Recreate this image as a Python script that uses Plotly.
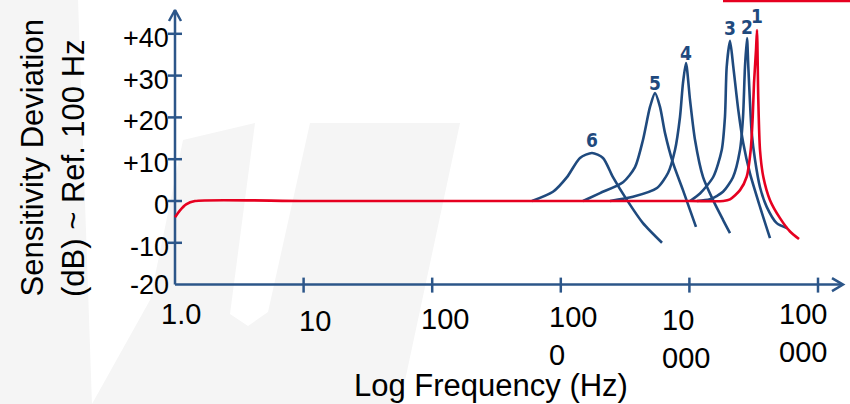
import plotly.graph_objects as go
import math

# ---------------- data ----------------
# frequency in Hz, sensitivity deviation in dB
curve1_hz = [1.0, 1.09, 1.22, 1.43, 10, 100, 1000, 10000, 18350, 20690, 24750, 27900,
             29970, 31070, 31800, 32950, 33550, 34340, 35400, 37550, 42350, 50640, 60580, 71170]
curve1_db = [-3.9, -2.3, -0.8, 0, 0, 0, 0, 0, 0, 0.4, 2.6, 5.8,
             12.2, 20.1, 28.2, 36.1, 40.9, 24.2, 12.2, 5.8, 0.2, -4.1, -7.3, -9.1]

curve2_hz = [11460, 14450, 18250, 21830, 24730, 26120, 27050, 28050, 28720, 30520,
             32390, 35400, 39920, 47750, 57730]
curve2_db = [0, 0.4, 2.2, 5.7, 12.2, 20.1, 32.1, 39.0, 32.1, 16.3, 9.8, 3.3, -1.4, -5.3, -6.5]

curve3_hz = [10110, 12090, 15350, 17840, 18910, 19500, 20690, 21950, 23990, 26240,
             29580, 35400, 42350]
curve3_db = [0, 1.8, 5.8, 12.2, 20.2, 32.1, 38.3, 32.1, 21.8, 13.8, 6.6, -1.4, -8.9]

curve4_hz = [2415, 3640, 5598, 6818, 7727, 8451, 8913, 9410, 10110, 11060, 12770,
             15280, 18250, 20690]
curve4_db = [0, 1.0, 3.1, 6.7, 12.2, 20.1, 28.2, 33.0, 24.2, 14.6, 5.7, 0.2, -4.5, -7.7]

curve5_hz = [1489, 2018, 3048, 3777, 4355, 4939, 5404, 5907, 6457, 7453, 8913, 11250]
curve5_db = [0, 1.9, 4.5, 8.1, 14.6, 22.5, 25.8, 22.5, 16.3, 9.1, 2.6, -6.2]

curve6_hz = [597, 869, 1117, 1410, 1749, 2128, 2545, 3273, 4355, 6124]
curve6_db = [0, 2.2, 5.7, 10.3, 11.5, 10.3, 5.7, 0.2, -5.3, -10.0]

curve_names = ["1", "2", "3", "4", "5", "6"]

x_tick_vals = [1, 10, 100, 1000, 10000, 100000]
x_tick_text = ["1.0", "10", "100", "100<br>0", "10<br>000", "100<br>000"]
y_tick_vals = [40, 30, 20, 10, 0, -10, -20]
y_tick_text = ["+40", "+30", "+20", "+10", "0", "-10", "-20"]

x_title = "Log Frequency (Hz)"
y_title_1 = "Sensitivity Deviation"
y_title_2 = "(dB) ~ Ref. 100 Hz"

# ---------------- layout / style ----------------
W, H = 850, 404
X0_PX = 175.0      # pixel of 1 Hz
DEC_PX = 128.6     # pixels per decade
Y0_PX = 201.0      # pixel of 0 dB
DB_PX = 4.18       # pixels per dB

def lx(px):
    return (px - X0_PX) / DEC_PX

def fx(px):
    return 10 ** lx(px)

def dy(py):
    return (Y0_PX - py) / DB_PX

BLUE = "#1f4a7e"
AXIS = "#2c5689"
RED = "#e60020"
FONT = "Liberation Sans, Arial, sans-serif"

fig = go.Figure()

# watermark (very light)
def path(pts):
    s = "M " + " L ".join(f"{x/W:.4f},{1 - y/H:.4f}" for x, y in pts) + " Z"
    return s

shapes = []
for pts, col in [
    ([(0, 0), (78, 0), (92, 404), (0, 404)], "#f5f5f5"),
    ([(183, 140), (255, 123), (460, 123), (400, 404), (92, 404), (150, 300)], "#f5f5f5"),
    ([(255, 123), (310, 123), (268, 312), (248, 326), (230, 314)], "#ffffff"),
]:
    shapes.append(dict(type="path", path=path(pts), xref="paper", yref="paper",
                       fillcolor=col, line=dict(width=0), layer="below"))
# red line at top right
shapes.append(dict(type="line", xref="paper", yref="paper", x0=723 / W, x1=1.0,
                   y0=1 - 1 / H, y1=1 - 1 / H, line=dict(color=RED, width=2.5)))

# axes (drawn through the data scales)
fig.add_trace(go.Scatter(x=[1, fx(843)], y=[-20, -20], mode="lines",
                         line=dict(color=AXIS, width=2.5), hoverinfo="skip", showlegend=False))
fig.add_trace(go.Scatter(x=[1, 1], y=[-20, dy(10)], mode="lines",
                         line=dict(color=AXIS, width=2.5), hoverinfo="skip", showlegend=False))
# arrow heads
fig.add_trace(go.Scatter(x=[fx(169), 1, fx(181)], y=[dy(21), dy(10), dy(21)], mode="lines",
                         line=dict(color=AXIS, width=2.5), hoverinfo="skip", showlegend=False))
yax_px = Y0_PX + 20 * DB_PX
fig.add_trace(go.Scatter(x=[fx(832), fx(843), fx(832)], y=[dy(yax_px - 6.5), -20, dy(yax_px + 6.5)],
                         mode="lines", line=dict(color=AXIS, width=2.5), hoverinfo="skip",
                         showlegend=False))
# ticks
tx, ty = [], []
for v in y_tick_vals:
    if v == -20:
        continue
    tx += [fx(168), fx(182), None]
    ty += [v, v, None]
for v in x_tick_vals[1:]:
    tx += [v, v, None]
    ty += [dy(yax_px - 7), dy(yax_px + 8), None]
fig.add_trace(go.Scatter(x=tx, y=ty, mode="lines", line=dict(color=AXIS, width=2.5),
                         hoverinfo="skip", showlegend=False))

# curves
blue_curves = [(curve6_hz, curve6_db), (curve5_hz, curve5_db), (curve4_hz, curve4_db),
               (curve3_hz, curve3_db), (curve2_hz, curve2_db)]
for hz, db in blue_curves:
    fig.add_trace(go.Scatter(x=hz, y=db, mode="lines",
                             line=dict(color=BLUE, width=2.6, shape="spline", smoothing=0.7),
                             hoverinfo="skip", showlegend=False))
fig.add_trace(go.Scatter(x=curve1_hz, y=curve1_db, mode="lines",
                         line=dict(color=RED, width=2.6, shape="spline", smoothing=0.7),
                         hoverinfo="skip", showlegend=False))

annotations = []
# curve number labels above each peak
all_curves = [(curve1_hz, curve1_db), (curve2_hz, curve2_db), (curve3_hz, curve3_db),
              (curve4_hz, curve4_db), (curve5_hz, curve5_db), (curve6_hz, curve6_db)]
label_shift = [14, 11, 13, 10, 10, 13]
for name, (hz, db), sh in zip(curve_names, all_curves, label_shift):
    i = max(range(len(db)), key=lambda k: db[k])
    annotations.append(dict(x=math.log10(hz[i]), y=db[i], xref="x", yref="y",
                            text=f"<b>{name}</b>", showarrow=False, yanchor="middle",
                            yshift=sh, font=dict(family="DejaVu Sans Condensed, DejaVu Sans",
                                                 size=19, color=BLUE)))

# y tick labels
for v, t in zip(y_tick_vals, y_tick_text):
    annotations.append(dict(x=lx(171), y=v, xref="x", yref="y", text=t, showarrow=False,
                            xanchor="right", yanchor="middle", yshift=-4 if v != -20 else 0,
                            font=dict(family=FONT, size=27, color="#000000")))

# x tick labels
x_lab_shift = [6, 11, 13, 12, -3, -15]
x_lab_y = [314, 321, 319, 336, 339, 333]
for v, t, sx, cy in zip(x_tick_vals, x_tick_text, x_lab_shift, x_lab_y):
    annotations.append(dict(x=math.log10(v), y=dy(cy), xref="x", yref="y", text=t,
                            showarrow=False, xanchor="center", yanchor="middle", align="left",
                            xshift=sx, font=dict(family=FONT, size=29, color="#000000")))

# axis titles
annotations.append(dict(x=lx(491), y=dy(385), xref="x", yref="y", text=x_title, showarrow=False,
                        xanchor="center", yanchor="middle",
                        font=dict(family=FONT, size=31, color="#000000")))
annotations.append(dict(x=lx(32), y=dy(299), xref="x", yref="y", text=y_title_1, showarrow=False,
                        textangle=-90, xanchor="center", yanchor="bottom",
                        font=dict(family=FONT, size=31, color="#000000")))
annotations.append(dict(x=lx(73), y=dy(299), xref="x", yref="y", text=y_title_2, showarrow=False,
                        textangle=-90, xanchor="center", yanchor="bottom",
                        font=dict(family=FONT, size=31, color="#000000")))

fig.update_layout(
    width=W, height=H,
    margin=dict(l=0, r=0, t=0, b=0),
    paper_bgcolor="#ffffff", plot_bgcolor="rgba(0,0,0,0)",
    xaxis=dict(type="log", range=[lx(0), lx(W)], visible=False, fixedrange=True),
    yaxis=dict(range=[dy(H), dy(0)], visible=False, fixedrange=True),
    shapes=shapes, annotations=annotations, showlegend=False,
)

fig.write_html("out.html", config={"displayModeBar": False},
               post_script="document.body.style.margin='0';document.body.style.overflow='hidden';")
